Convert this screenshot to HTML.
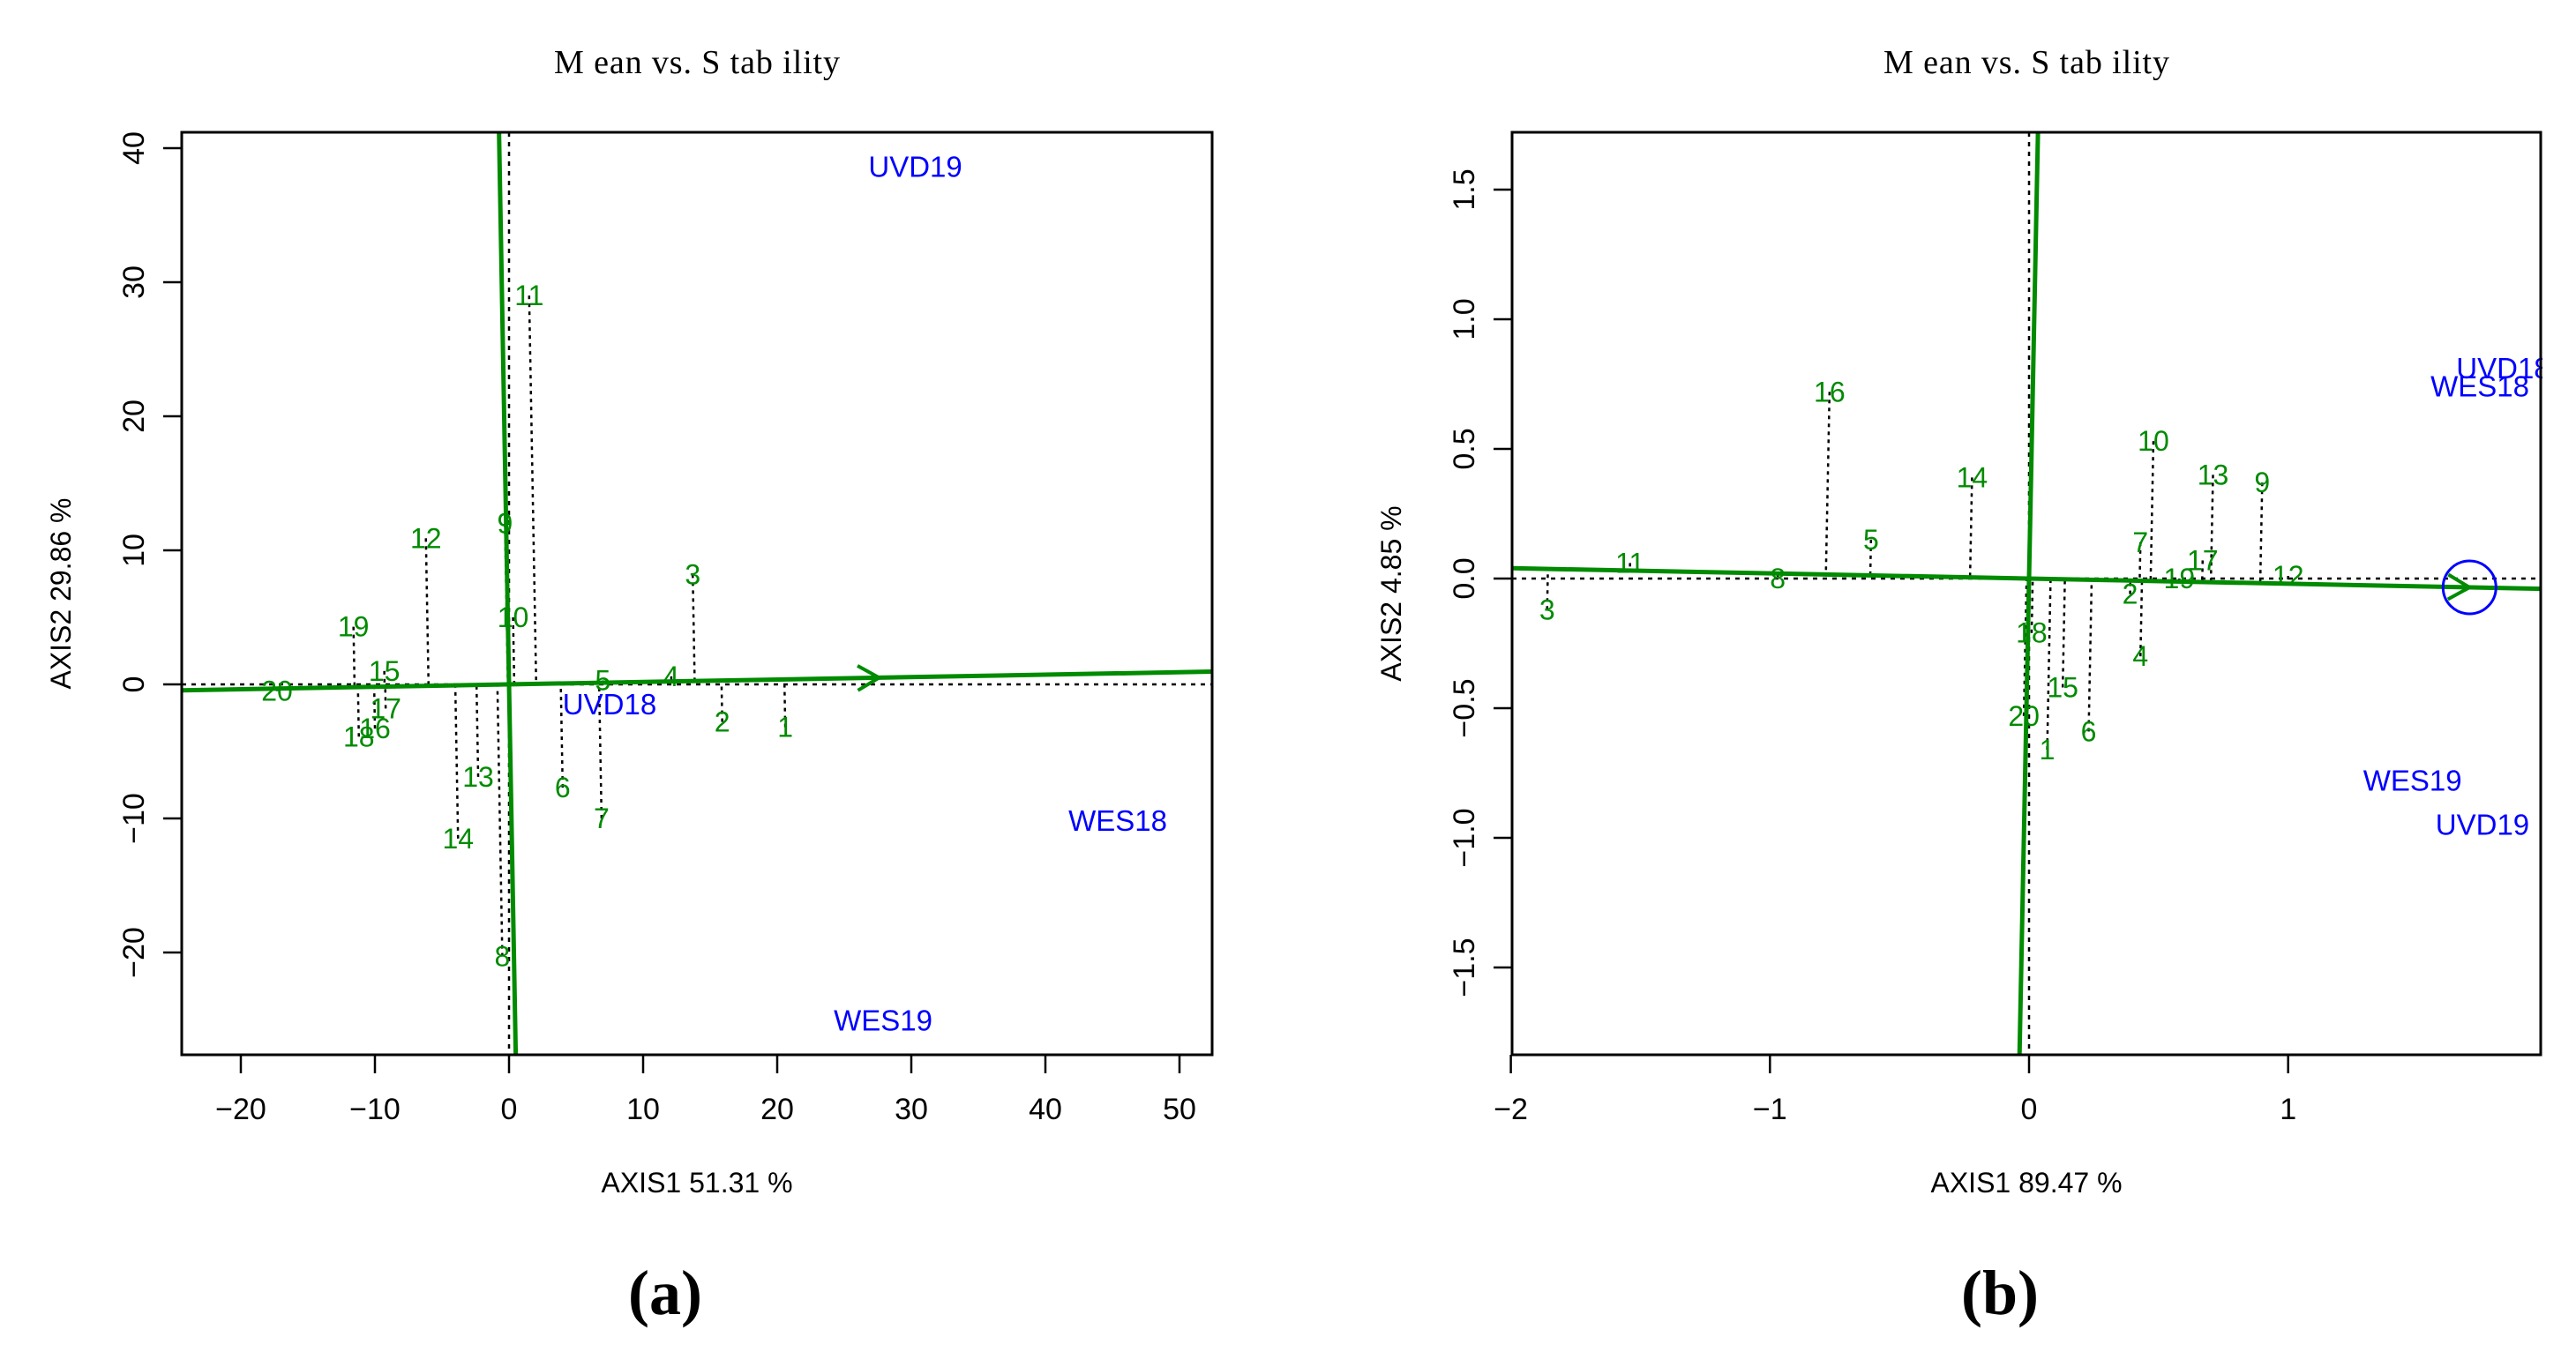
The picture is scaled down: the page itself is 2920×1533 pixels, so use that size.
<!DOCTYPE html>
<html><head><meta charset="utf-8"><style>
html,body{margin:0;padding:0;background:#fff;}
svg{display:block;}
text{font-family:"Liberation Sans",sans-serif;}
</style></head><body>
<svg id="fig" width="2920" height="1533" viewBox="0 0 2920 1533" xmlns="http://www.w3.org/2000/svg">
<defs>
<clipPath id="clipA"><rect x="206" y="150" width="1168" height="1046"/></clipPath>
<clipPath id="clipB"><rect x="1714" y="150" width="1168" height="1046"/></clipPath>
</defs>
</svg>
<script>
// Panel (a) data
const genoLabelsA = ["1","2","3","4","5","6","7","8","9","10","11","12","13","14","15","16","17","18","19","20"];
const genoXA = [20.6,15.9,13.7,12.1,7.0,4.0,6.9,-0.5,-0.3,0.3,1.5,-6.2,-2.3,-3.8,-9.3,-10.0,-9.2,-11.2,-11.6,-17.3];
const genoYA = [-3.2,-2.8,8.2,0.6,0.3,-7.7,-10.0,-20.3,12.0,5.0,29.0,10.9,-6.9,-11.5,1.0,-3.3,-1.8,-3.9,4.3,-0.5];
const envLabelsA = ["UVD19","UVD18","WES18","WES19"];
const envXA = [30.3,7.5,45.4,27.9];
const envYA = [38.6,-1.5,-10.2,-25.1];
const aeaA = [27.6,0.5];
const xTicksA = [-20,-10,0,10,20,30,40,50];
const yTicksA = [-20,-10,0,10,20,30,40];
// Panel (b) data
const genoLabelsB = ["1","2","3","4","5","6","7","8","9","10","11","12","13","14","15","16","17","18","19","20"];
const genoXB = [0.07,0.39,-1.86,0.43,-0.61,0.23,0.43,-0.97,0.90,0.48,-1.54,1.0,0.71,-0.22,0.13,-0.77,0.67,0.01,0.58,-0.02];
const genoYB = [-0.66,-0.06,-0.12,-0.30,0.15,-0.59,0.14,0.0,0.37,0.53,0.06,0.01,0.40,0.39,-0.42,0.72,0.07,-0.21,0.0,-0.53];
const envLabelsB = ["UVD18","WES18","WES19","UVD19"];
const envXB = [1.83,1.74,1.48,1.75];
const envYB = [0.81,0.74,-0.78,-0.95];
const aeaB = [1.70,-0.034];
const xTicksB = [-2,-1,0,1];
const yTicksB = [-1.5,-1.0,-0.5,0.0,0.5,1.0,1.5];

const NS="http://www.w3.org/2000/svg";
const svg=document.getElementById('fig');
function mk(tag,attrs,parent){const e=document.createElementNS(NS,tag);for(const k in attrs)e.setAttribute(k,attrs[k]);(parent||svg).appendChild(e);return e;}
function fmt(v,dec){return (v<0?"\u2212":"")+Math.abs(v).toFixed(dec);}

function panel(cfg){
  const g=mk('g',{});
  
  
  const L=cfg.box[0],T=cfg.box[1],R=cfg.box[2],B=cfg.box[3];
  const sx=v=>cfg.x0+v*cfg.kx, sy=v=>cfg.y0-v*cfg.ky;
  const xmin=(L-cfg.x0)/cfg.kx, xmax=(R-cfg.x0)/cfg.kx;
  const ymax=(cfg.y0-T)/cfg.ky, ymin=(cfg.y0-B)/cfg.ky;
  const t=mk('text',{x:(L+R)/2,y:83,'text-anchor':'middle','font-size':38,style:'font-family:"Liberation Serif",serif',textLength:324,lengthAdjust:'spacing'},g);
  t.textContent="M ean vs. S tab ility";
  
  
  const inner=mk('g',{'clip-path':'url(#'+cfg.clip+')'},g);
  const dz=mk('line',{x1:L,x2:R,y1:sy(0),y2:sy(0),stroke:'#000','stroke-width':2.5,'stroke-dasharray':'5,6'},inner);
  
  
  const dv=mk('line',{x1:sx(0),x2:sx(0),y1:T,y2:B,stroke:'#000','stroke-width':2.5,'stroke-dasharray':'5,6'},inner);
  
  
  const ax=cfg.aea[0],ay=cfg.aea[1];
  const len=Math.hypot(ax,ay),ux=ax/len,uy=ay/len;
  for(let i=0;i<cfg.gl.length;i++){
    const px=cfg.gx[i],py=cfg.gy[i];
    const d=px*ux+py*uy;
    const l=mk('line',{x1:sx(px),y1:sy(py),x2:sx(d*ux),y2:sy(d*uy),stroke:'#000','stroke-width':2.5,'stroke-dasharray':'4,5'},inner);
    
    
  }
  const s1=mk('line',{x1:sx(xmin),y1:sy(xmin*uy/ux),x2:sx(xmax),y2:sy(xmax*uy/ux),stroke:'#008B00','stroke-width':5},inner);
  
  
  const s2=mk('line',{x1:sx(-ymax*uy/ux),y1:sy(ymax),x2:sx(-ymin*uy/ux),y2:sy(ymin),stroke:'#008B00','stroke-width':5},inner);
  
  
  const tx=sx(ax),ty=sy(ay);
  const ang=Math.atan2(-uy,ux);
  const a1=ang+Math.PI*5/6,a2=ang-Math.PI*5/6,h=28;
  const ah=mk('path',{d:`M${tx+h*Math.cos(a1)},${ty+h*Math.sin(a1)} L${tx},${ty} L${tx+h*Math.cos(a2)},${ty+h*Math.sin(a2)}`,fill:'none',stroke:'#008B00','stroke-width':4},inner);
  
  
  if(cfg.circle){
    const c=mk('circle',{cx:tx,cy:ty,r:30,fill:'none',stroke:'#0000FF','stroke-width':3},inner);
    
    
  }
  for(let i=0;i<cfg.gl.length;i++){
    const e=mk('text',{x:sx(cfg.gx[i]),y:sy(cfg.gy[i])+11,'text-anchor':'middle','font-size':32,fill:'#008B00'},inner);
    e.textContent=cfg.gl[i];
    
    
  }
  for(let i=0;i<cfg.el.length;i++){
    const e=mk('text',{x:sx(cfg.ex[i]),y:sy(cfg.ey[i])+11,'text-anchor':'middle','font-size':33,fill:'#0000FF'},inner);
    e.textContent=cfg.el[i];
    
    
  }
  const bx=mk('rect',{x:L,y:T,width:R-L,height:B-T,fill:'none',stroke:'#000','stroke-width':3},g);
  
  
  cfg.xt.forEach(v=>{
    const x=sx(v);
    const tk=mk('line',{x1:x,x2:x,y1:B,y2:B+21,stroke:'#000','stroke-width':2.5},g);
    
    
    const tl=mk('text',{x:x,y:B+73,'text-anchor':'middle','font-size':34},g);
    tl.textContent=fmt(v,0);
    
    
  });
  cfg.yt.forEach(v=>{
    const y=sy(v);
    const tk=mk('line',{x1:L-21,x2:L,y1:y,y2:y,stroke:'#000','stroke-width':2.5},g);
    
    
    const tl=mk('text',{x:L-43,y:y,'text-anchor':'middle','font-size':34,transform:`rotate(-90 ${L-43} ${y})`},g);
    tl.textContent=fmt(v,cfg.ydec);
    
    
  });
  const xl=mk('text',{x:(L+R)/2,y:1352,'text-anchor':'middle','font-size':32},g);
  xl.textContent=cfg.xlab;
  
  
  const yx=L-126,yy=(T+B)/2;
  const yl=mk('text',{x:yx,y:yy,'text-anchor':'middle','font-size':32,transform:`rotate(-90 ${yx} ${yy})`},g);
  yl.textContent=cfg.ylab;
  
  
  const pl=mk('text',{x:cfg.plx,y:1490,'text-anchor':'middle','font-size':72,'font-weight':'bold',style:'font-family:"Liberation Serif",serif'},g);
  pl.textContent=cfg.pl;
  
  
}

panel({name:'panel-a',clip:'clipA',box:[206,150,1374,1196],x0:577,kx:15.2,y0:776,ky:15.2,
  gl:genoLabelsA,gx:genoXA,gy:genoYA,el:envLabelsA,ex:envXA,ey:envYA,aea:aeaA,circle:false,
  xt:xTicksA,yt:yTicksA,ydec:0,xlab:'AXIS1 51.31 %',ylab:'AXIS2 29.86 %',pl:'(a)',plx:754});
panel({name:'panel-b',clip:'clipB',box:[1714,150,2880,1196],x0:2300,kx:293.7,y0:656,ky:294,
  gl:genoLabelsB,gx:genoXB,gy:genoYB,el:envLabelsB,ex:envXB,ey:envYB,aea:aeaB,circle:true,
  xt:xTicksB,yt:yTicksB,ydec:1,xlab:'AXIS1 89.47 %',ylab:'AXIS2 4.85 %',pl:'(b)',plx:2267});
</script>
</body></html>
